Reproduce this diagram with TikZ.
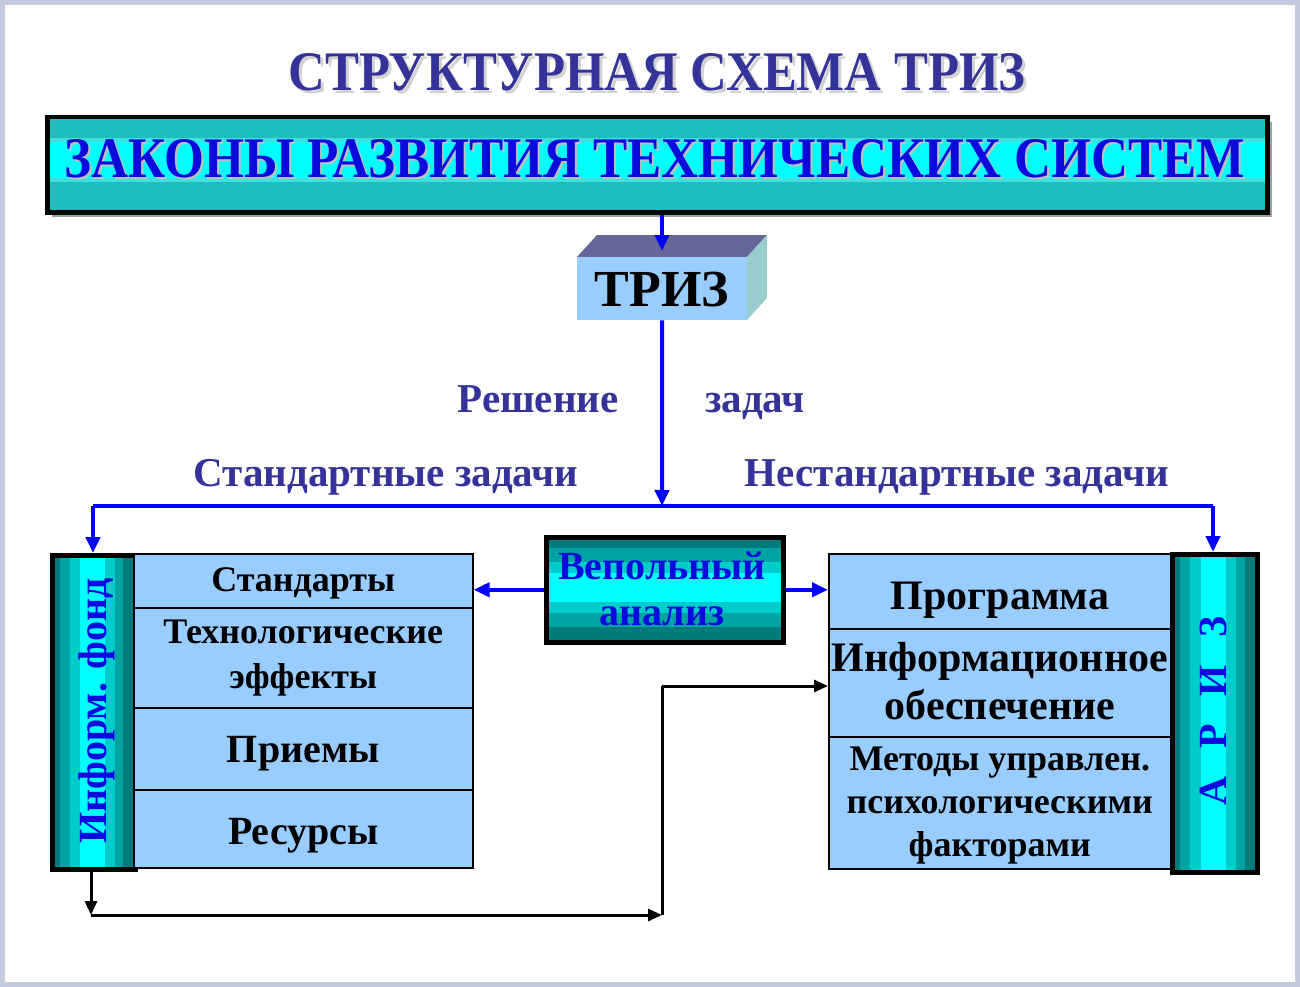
\documentclass[tikz,border=0pt]{standalone}
\usepackage{fontspec}
\usepackage{graphicx}
\setmainfont{Liberation Serif}
\usetikzlibrary{arrows.meta,calc}
\definecolor{navy}{HTML}{333399}
\definecolor{lblue}{HTML}{99CCFF}
\definecolor{tA}{HTML}{1FBDBD}
\definecolor{tB}{HTML}{3FE0E0}
\definecolor{tD}{HTML}{007B7B}
\definecolor{tM}{HTML}{00A3A3}
\definecolor{tL}{HTML}{00CCCC}
\definecolor{cy}{HTML}{00FFFF}
\definecolor{arrblue}{HTML}{0000FF}
\definecolor{txtblue}{HTML}{0A0ADC}
\definecolor{framec}{HTML}{C3CADB}
\definecolor{topf}{HTML}{666699}
\definecolor{rightf}{HTML}{99CCCC}
\newcommand{\vbands}[4]{%
  \foreach \a/\b/\c in {0/.12/tD,.12/.24/tM,.24/.36/tL,.36/.66/cy,.66/.78/tL,.78/.88/tM,.88/1/tD}{%
    \fill[\c] ({#1+\a*(#3-#1)},#2) rectangle ({#1+\b*(#3-#1)},#4);}}
\newcommand{\hbands}[4]{%
  \foreach \a/\b/\c in {0/.12/tD,.12/.26/tM,.26/.36/tL,.36/.64/cy,.64/.74/tL,.74/.88/tM,.88/1/tD}{%
    \fill[\c] (#1,{#2+\a*(#4-#2)}) rectangle (#3,{#2+\b*(#4-#2)});}}
\begin{document}
\begin{tikzpicture}[x=1pt,y=-1pt,
  bl/.style={draw=black,line width=1.6pt,fill=lblue,inner sep=0pt,anchor=north west},
  btxt/.style={font=\fontsize{38}{46}\selectfont\bfseries,align=center,inner sep=0pt},
  frm/.style={draw=black,line width=4.5pt,inner sep=0pt,anchor=north west},
  lbl/.style={font=\fontsize{41}{44}\selectfont\bfseries,text=navy,anchor=base},
  bline/.style={draw=arrblue,line width=4pt},
  bluearr/.style={bline,-{Triangle[length=16pt,width=14pt]}},
  kline/.style={draw=black,line width=3pt},
  blackarr/.style={kline,-{Triangle[length=14pt,width=12pt]}},
]
\useasboundingbox (0,0) rectangle (1300,987);
\fill[white] (0,0) rectangle (1300,987);
\draw[framec,line width=5pt] (2.5,2.5) rectangle (1297.5,984.5);

% title
\node[text=gray!35] at (660,75) {\resizebox{737pt}{37pt}{\bfseries СТРУКТУРНАЯ СХЕМА ТРИЗ}};
\node[text=navy] (title) at (657,72) {\resizebox{737pt}{37pt}{\bfseries СТРУКТУРНАЯ СХЕМА ТРИЗ}};

% laws box
\fill[gray!75] (52,122) rectangle (1272,217);
\foreach \a/\b/\c in {0/.24/tA,.24/.28/tB,.28/.66/cy,.66/.71/tB,.71/1/tA}{%
  \fill[\c] (45,{115+\a*95}) rectangle (1265,{115+\b*95});}
\node[frm,minimum width=1220pt,minimum height=95pt] (laws) at (45,115) {};
\node[text=gray!50] at (657,161) {\resizebox{1180pt}{38pt}{\bfseries ЗАКОНЫ РАЗВИТИЯ ТЕХНИЧЕСКИХ СИСТЕМ}};
\node[text=txtblue] (lawsT) at (655,159) {\resizebox{1180pt}{38pt}{\bfseries ЗАКОНЫ РАЗВИТИЯ ТЕХНИЧЕСКИХ СИСТЕМ}};

% TRIZ 3D box
\fill[topf] (577,257) -- (597,235) -- (767,235) -- (747,257) -- cycle;
\fill[rightf] (747,257) -- (767,235) -- (767,298) -- (747,320) -- cycle;
\node[fill=lblue,inner sep=0pt,anchor=north west,minimum width=170pt,minimum height=63pt] (triz) at (577,257) {};
\node[font=\fontsize{52}{56}\selectfont\bfseries] (trizT) at (662,290) {ТРИЗ};
\coordinate (trizTop) at (662,251);

% labels
\node[lbl] (resh) at (538,412) {Решение};
\node[lbl] (zad) at (755,412) {задач};
\node[lbl] (stdz) at (386,486) {Стандартные задачи};
\node[lbl] (nstdz) at (957,486) {Нестандартные задачи};

% left bar
\vbands{50}{553}{133}{867}
\node[frm,minimum width=83pt,minimum height=314pt] (ifond) at (50,553) {};
\node[rotate=90,text=txtblue,font=\fontsize{40}{44}\selectfont\bfseries] (ifondT) at (97,711) {Информ. фонд};

% left boxes
\node[bl,minimum width=339pt,minimum height=54pt] (std) at (133,553) {};
\node[bl,minimum width=339pt,minimum height=100pt] (tech) at (133,607) {};
\node[bl,minimum width=339pt,minimum height=82pt] (pri) at (133,707) {};
\node[bl,minimum width=339pt,minimum height=78pt] (res) at (133,789) {};
\node[btxt,font=\fontsize{36}{44}\selectfont\bfseries] (stdT) at ([yshift=-3pt]std.center) {Стандарты};
\node[btxt,font=\fontsize{36}{45}\selectfont\bfseries] (techT) at (tech.center) {Технологические\\эффекты};
\node[btxt,font=\fontsize{40}{44}\selectfont\bfseries] (priT) at ([yshift=-5pt]pri.center) {Приемы};
\node[btxt,font=\fontsize{40}{44}\selectfont\bfseries] (resT) at ([yshift=-7pt]res.center) {Ресурсы};

% vepolny
\hbands{544}{535}{781}{640}
\node[frm,minimum width=237pt,minimum height=105pt] (vep) at (544,535) {};
\node[text=txtblue,font=\fontsize{40}{46}\selectfont\bfseries,align=center] (vepT) at (662,589) {Вепольный\\анализ};

% right boxes
\node[bl,minimum width=342pt,minimum height=75pt] (prog) at (828,553) {};
\node[bl,minimum width=342pt,minimum height=108pt] (info) at (828,628) {};
\node[bl,minimum width=342pt,minimum height=132pt] (meth) at (828,736) {};
\node[btxt,font=\fontsize{42}{44}\selectfont\bfseries] (progT) at ([yshift=-9pt]prog.center) {Программа};
\node[btxt,font=\fontsize{42}{48}\selectfont\bfseries] (infoT) at ([yshift=2pt]info.center) {Информационное\\обеспечение};
\node[btxt,font=\fontsize{36}{43}\selectfont\bfseries] (methT) at ([yshift=-3pt]meth.center) {Методы управлен.\\психологическими\\факторами};

% right bar
\vbands{1170}{552}{1255}{870}
\node[frm,minimum width=85pt,minimum height=318pt] (ariz) at (1170,552) {};
\node[rotate=90,text=txtblue,font=\fontsize{40}{44}\selectfont\bfseries] (arizT) at (1213,711) {А\hspace{28pt}Р\hspace{28pt}И\hspace{28pt}З};

% blue connectors
\coordinate (jc) at (662,506);
\coordinate (jl) at (93,506);
\coordinate (jr) at (1213,506);
\draw[bluearr] (trizTop |- laws.south) -- (trizTop);
\draw[bluearr] (triz.south) -- (jc);
\draw[bline] (jl) -- (jr);
\draw[bluearr] (jl) -- (ifond.north -| jl);
\draw[bluearr] (jr) -- (ariz.north -| jr);
\draw[bluearr] (vep.west) -- (std.east |- vep.west);
\draw[bluearr] (vep.east) -- (prog.west |- vep.east);

% black connectors
\coordinate (b1) at (91,915);
\coordinate (b2) at (662,915);
\coordinate (b3) at (662,686);
\draw[blackarr] (ifond.south -| b1) -- (b1);
\draw[blackarr] (b1) -- (b2);
\draw[kline] (b2) -- (b3);
\draw[blackarr] (b3) -- (b3 -| info.west);
\end{tikzpicture}
\end{document}
